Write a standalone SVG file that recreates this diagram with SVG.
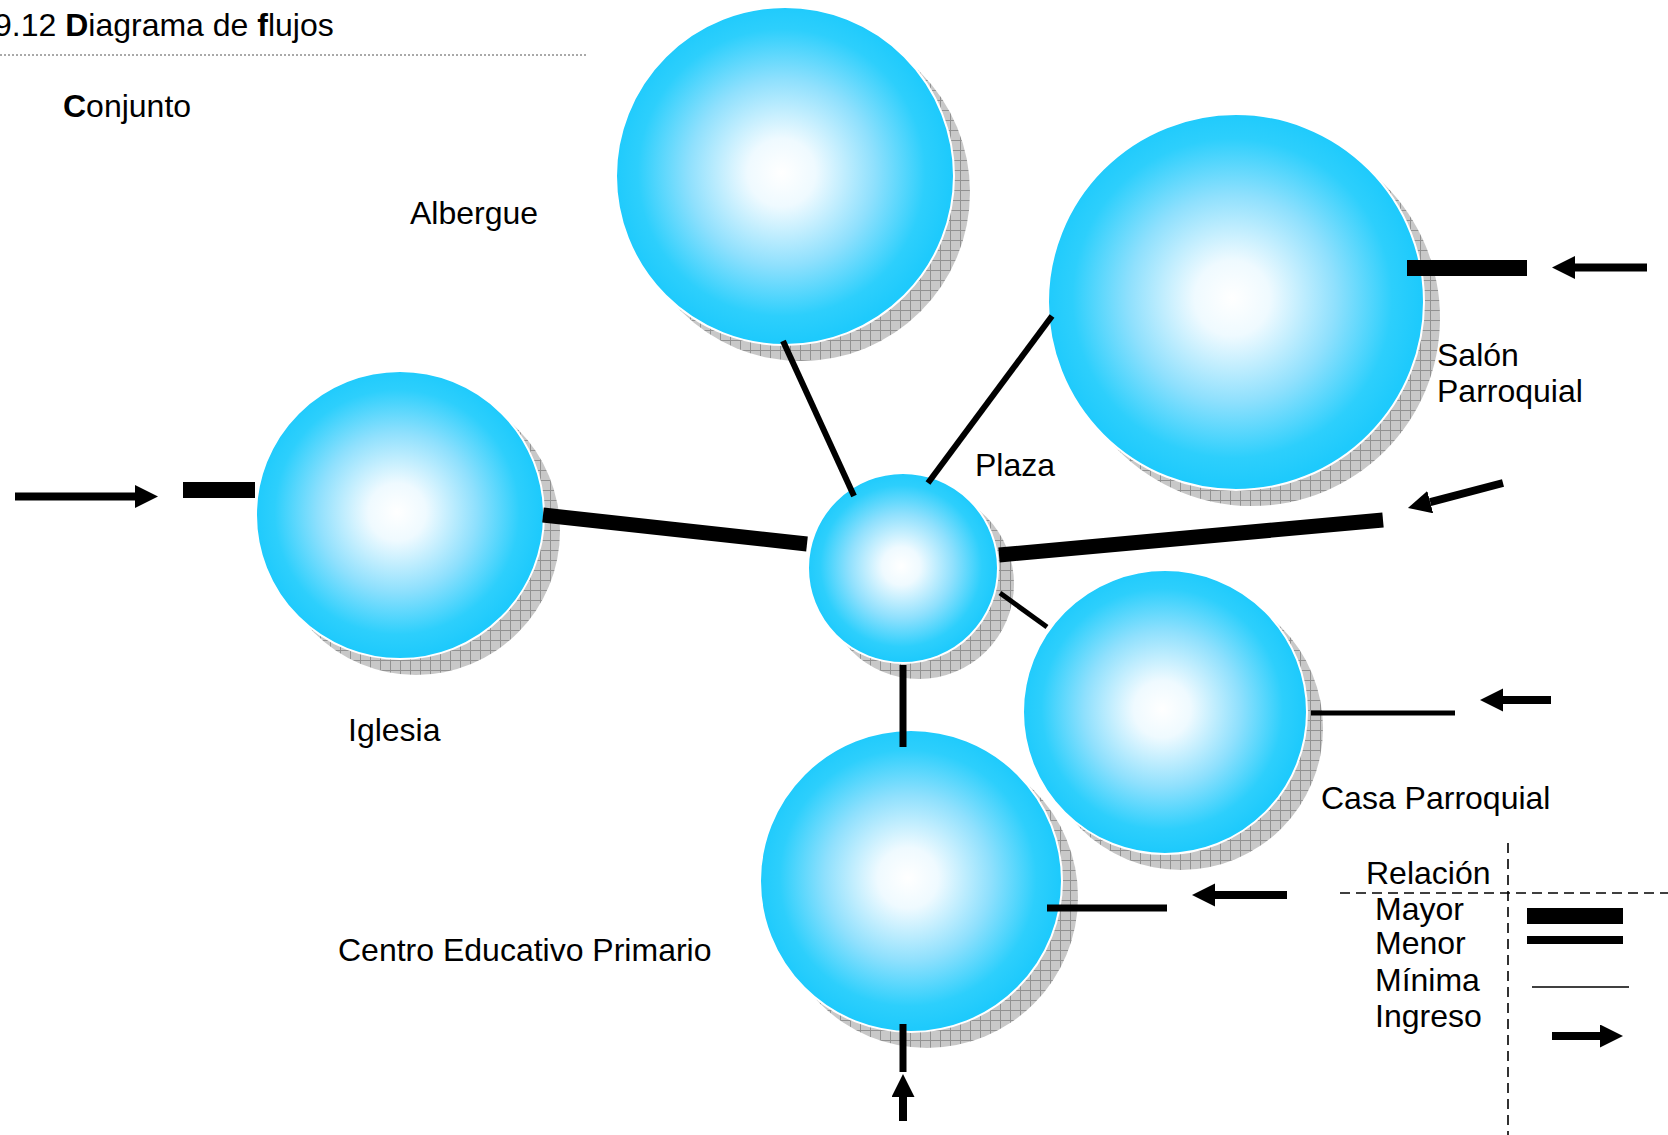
<svg xmlns="http://www.w3.org/2000/svg" width="1668" height="1135" viewBox="0 0 1668 1135">
<style>
text{font-family:"Liberation Sans",Arial,sans-serif;font-size:32px;fill:#000}
.b{font-weight:bold}
.ball{fill:url(#sphere);stroke:#fff;stroke-width:2}
.shadow{fill:url(#hatch)}
.ln{stroke:#000;fill:none;stroke-linecap:butt}
.arr{stroke:#000;stroke-width:8;fill:none;marker-end:url(#head)}
.dash{stroke:#000;stroke-width:1.6;stroke-dasharray:10 6;fill:none}
</style>
<defs>
<radialGradient id="sphere" cx="0.49" cy="0.49" r="0.5">
<stop offset="0" stop-color="#ffffff"/>
<stop offset="0.2" stop-color="#effaff"/>
<stop offset="0.55" stop-color="#8fe0fd"/>
<stop offset="0.85" stop-color="#2dcffc"/>
<stop offset="1" stop-color="#1ecafc"/>
</radialGradient>
<pattern id="hatch" width="10" height="10" patternUnits="userSpaceOnUse">
<rect width="10" height="10" fill="#c8c8c8"/>
<path d="M0,0.5H10M0.5,0V10" stroke="#929292" stroke-width="1"/>
</pattern>
<marker id="head" markerUnits="userSpaceOnUse" markerWidth="24" markerHeight="24" refX="0" refY="11.5" orient="auto">
<path d="M0,0L23,11.5L0,23z" fill="#000"/>
</marker>
</defs>
<rect width="1668" height="1135" fill="#fff"/>

<g id="title">
<text x="-6" y="36">9.12 <tspan class="b">D</tspan>iagrama de <tspan class="b">f</tspan>lujos</text>
<line x1="0" y1="55" x2="588" y2="55" stroke="#555" stroke-width="1" stroke-dasharray="2 2"/>
<text x="63" y="117"><tspan class="b">C</tspan>onjunto</text>
</g>

<g id="albergue">
<circle class="shadow" cx="801" cy="192" r="169"/>
<circle class="ball" cx="785" cy="176" r="169"/>
<text x="410" y="224">Albergue</text>
</g>

<g id="salon">
<circle class="shadow" cx="1252" cy="318" r="188"/>
<circle class="ball" cx="1236" cy="302" r="188"/>
<text x="1437" y="366">Salón</text>
<text x="1437" y="402">Parroquial</text>
</g>

<g id="iglesia">
<circle class="shadow" cx="416" cy="531" r="144"/>
<circle class="ball" cx="400" cy="515" r="144"/>
<text x="348" y="741">Iglesia</text>
</g>

<g id="plaza">
<circle class="shadow" cx="919" cy="584" r="95"/>
<circle class="ball" cx="903" cy="568" r="95"/>
<text x="975" y="476">Plaza</text>
</g>

<g id="casa">
<circle class="shadow" cx="1181" cy="728" r="142"/>
<circle class="ball" cx="1165" cy="712" r="142"/>
<text x="1321" y="809">Casa Parroquial</text>
</g>

<g id="centro">
<circle class="shadow" cx="927" cy="897" r="151"/>
<circle class="ball" cx="911" cy="881" r="151"/>
<text x="338" y="961">Centro Educativo Primario</text>
</g>

<g id="connectors">
<line class="ln" x1="783" y1="341" x2="854" y2="496" stroke-width="6"/>
<line class="ln" x1="1052" y1="316" x2="928" y2="483" stroke-width="6"/>
<line class="ln" x1="543" y1="515" x2="807" y2="544" stroke-width="15"/>
<line class="ln" x1="999" y1="555" x2="1383" y2="520" stroke-width="15"/>
<line class="ln" x1="1000" y1="593" x2="1047" y2="627" stroke-width="5"/>
<line class="ln" x1="903" y1="665" x2="903" y2="747" stroke-width="7"/>
<rect x="183" y="482" width="72" height="16" fill="#000"/>
<rect x="1407" y="260" width="120" height="16" fill="#000"/>
<line class="ln" x1="1311" y1="713" x2="1455" y2="713" stroke-width="5"/>
<line class="ln" x1="1047" y1="908" x2="1167" y2="908" stroke-width="7"/>
<line class="ln" x1="903" y1="1024" x2="903" y2="1072" stroke-width="7"/>
<line class="arr" x1="15" y1="496.5" x2="135" y2="496.5"/>
<line class="arr" x1="1647" y1="267.5" x2="1575" y2="267.5"/>
<line class="arr" x1="1503" y1="483" x2="1430.2" y2="502.1"/>
<line class="arr" x1="1551" y1="700" x2="1503" y2="700"/>
<line class="arr" x1="1287" y1="895" x2="1215" y2="895"/>
<line class="arr" x1="903" y1="1121" x2="903" y2="1097"/>
</g>

<g id="legend">
<line class="dash" x1="1508" y1="843" x2="1508" y2="1135"/>
<line class="dash" x1="1340" y1="893" x2="1668" y2="893"/>
<text x="1366" y="884">Relación</text>
<text x="1375" y="920">Mayor</text>
<text x="1375" y="954">Menor</text>
<text x="1375" y="991">Mínima</text>
<text x="1375" y="1027">Ingreso</text>
<rect x="1527" y="908" width="96" height="16" fill="#000"/>
<rect x="1527" y="936" width="96" height="8" fill="#000"/>
<line x1="1532" y1="987" x2="1629" y2="987" stroke="#000" stroke-width="1.6"/>
<line class="arr" x1="1552" y1="1036" x2="1600" y2="1036"/>
</g>
</svg>
